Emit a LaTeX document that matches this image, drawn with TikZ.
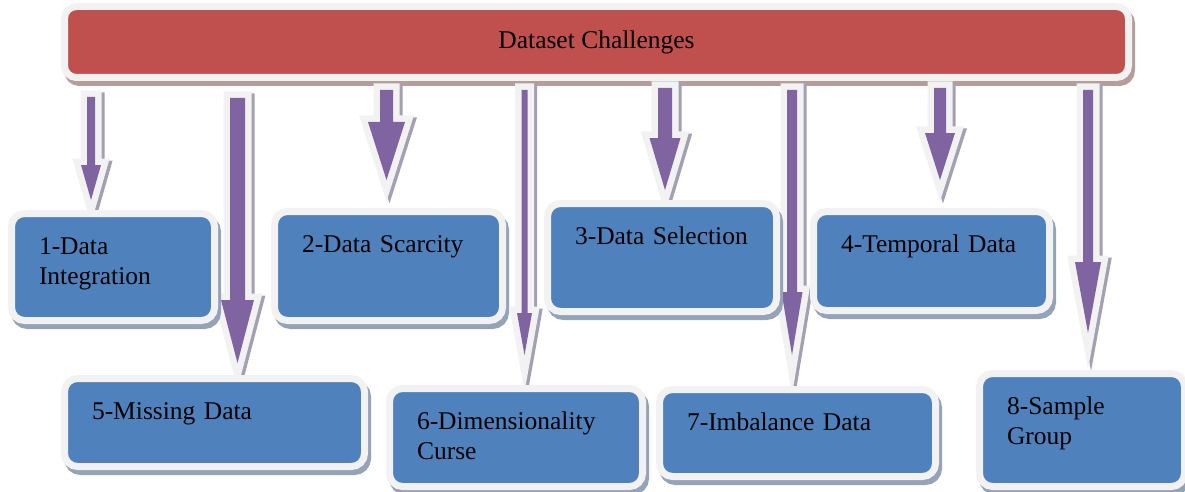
\documentclass[tikz,border=0pt]{standalone}
\usepackage{fontspec}
\setmainfont{Liberation Serif}
\usepackage{tikz}
\usetikzlibrary{calc,shadows}

\definecolor{titlered}{HTML}{C0504D}
\definecolor{boxblue}{HTML}{4F81BD}
\definecolor{arrowpurple}{HTML}{8064A2}
\definecolor{rimgray}{HTML}{F2F2F2}
\definecolor{titleshade}{HTML}{B79C9C}
\definecolor{boxshade}{HTML}{94A3B8}
\definecolor{arrowshade}{HTML}{A4A0B4}

\tikzset{
  headbox/.style={draw=rimgray, line width=7pt, fill=titlered, rounded corners=12pt,
    minimum width=1064pt, minimum height=71pt, font=\fontsize{25.5}{30}\selectfont,
    drop shadow={shadow xshift=3pt, shadow yshift=-5pt, fill=titleshade, draw=titleshade, opacity=1}},
  challenge/.style={anchor=north west, draw=rimgray, line width=7pt, fill=boxblue, rounded corners=13pt,
    inner xsep=27.5pt, inner ysep=0pt, text height=41pt, align=left,
    font=\fontsize{25.5}{30}\selectfont,
    drop shadow={shadow xshift=3pt, shadow yshift=-5pt, fill=boxshade, draw=boxshade, opacity=1}},
  dcarrow/.style={fill=arrowpurple, miter limit=20,
    preaction={draw=arrowshade, line width=13pt, transform canvas={shift={(3pt,-2pt)}}},
    preaction={draw=rimgray, line width=13pt}}
}

\newcommand{\challengearrow}[5]{%
  \path[dcarrow] let \p1=(#1), \p2=(title.south) in
    (\x1-#3pt,\y2-#2pt) -- (\x1+#3pt,\y2-#2pt) -- (\x1+#3pt,\y1+#5pt) -- (\x1+#4pt,\y1+#5pt)
    -- (\x1,\y1) -- (\x1-#4pt,\y1+#5pt) -- (\x1-#3pt,\y1+#5pt) -- cycle;}

\begin{document}
\begin{tikzpicture}[x=1pt,y=-1pt]
\useasboundingbox (0,0) rectangle (1185,492);

\node[headbox] (title) at (596.5,42) {Dataset Challenges};

\coordinate (tointegration) at (91,200);
\coordinate (tomissing) at (237.5,363);
\coordinate (toscarcity) at (386.5,180);
\coordinate (todimension) at (524.5,355);
\coordinate (toselection) at (665,190);
\coordinate (toimbalance) at (792,355);
\coordinate (totemporal) at (940,180);
\coordinate (tosample) at (1088,333);

\challengearrow{tointegration}{16}{4}{10}{35}
\challengearrow{tomissing}{17}{7.5}{16.5}{63}
\challengearrow{toscarcity}{9}{6.5}{18.5}{58}
\challengearrow{todimension}{9}{3}{7.5}{42}
\challengearrow{toselection}{7}{7}{15.5}{52}
\challengearrow{toimbalance}{9}{5}{10.5}{63}
\challengearrow{totemporal}{7}{6}{15}{47}
\challengearrow{tosample}{9}{5}{13}{71}

\node[challenge, text width=148pt, text depth=66pt] (integration) at (8,210) {1-Data\\Integration};
\node[challenge, text width=173pt, text depth=68pt] (scarcity) at (271,208) {2-Data Scarcity};
\node[challenge, text width=174pt, text depth=67pt] (selection) at (544,200) {3-Data Selection};
\node[challenge, text width=181pt, text depth=58pt] (temporal) at (810,208) {4-Temporal Data};
\node[challenge, text width=245pt, text depth=47pt] (missing) at (61,375) {5-Missing Data};
\node[challenge, text width=198pt, text depth=57pt] (dimensionality) at (386,385) {6-Dimensionality\\Curse};
\node[challenge, text width=221pt, text depth=46pt] (imbalance) at (656,386) {7-Imbalance Data};
\node[challenge, text width=150pt, text depth=72pt] (sample) at (976,370) {8-Sample\\Group};
\end{tikzpicture}
\end{document}
